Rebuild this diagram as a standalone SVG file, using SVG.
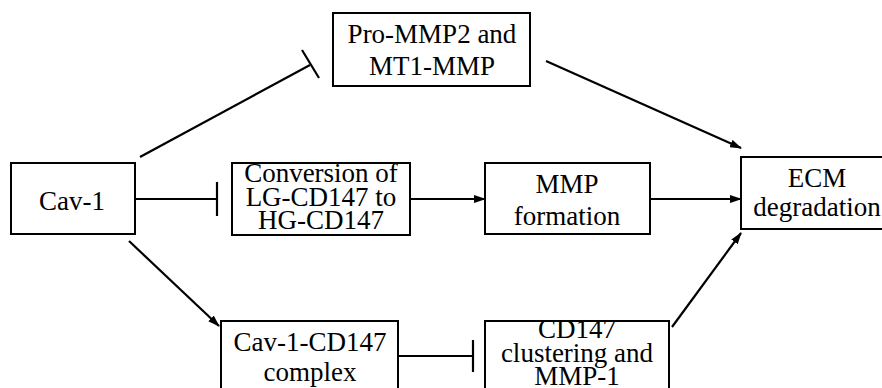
<svg xmlns="http://www.w3.org/2000/svg" width="882" height="388" viewBox="0 0 882 388">
  <style>
    .box { fill: #ffffff; stroke: #000000; stroke-width: 2; }
    .lbl { font-family: 'Liberation Serif', 'Times New Roman', serif; font-size: 27px; fill: #000000; text-anchor: middle; }
    .edge { stroke: #000000; stroke-width: 2.2; fill: none; }
    .act { marker-end: url(#arrow); }
  </style>
  <defs>
    <marker id="arrow" viewBox="0 0 12 8" refX="11" refY="4" markerWidth="12" markerHeight="8" markerUnits="userSpaceOnUse" orient="auto">
      <path d="M0,0 L12,4 L0,8 Z" fill="#000000"/>
    </marker>
  </defs>
  <rect width="882" height="388" fill="#ffffff"/>

  <!-- connectors: arrows activate, bars inhibit -->
  <g id="connectors">
    <line class="edge" x1="140" y1="157" x2="310" y2="65"/>
    <line class="edge" x1="302" y1="50" x2="319" y2="78"/>
    <line class="edge" x1="135" y1="199" x2="217" y2="199"/>
    <line class="edge" x1="217" y1="182" x2="217" y2="216"/>
    <line class="edge act" x1="410" y1="199" x2="485" y2="199"/>
    <line class="edge act" x1="650" y1="199" x2="741" y2="199"/>
    <line class="edge act" x1="546" y1="61" x2="741" y2="148"/>
    <line class="edge act" x1="129" y1="241" x2="219" y2="326"/>
    <line class="edge" x1="398" y1="356" x2="473" y2="356"/>
    <line class="edge" x1="473" y1="340" x2="473" y2="372"/>
    <line class="edge act" x1="672" y1="327" x2="741" y2="233"/>
  </g>

  <g id="pro-mmp2">
    <rect class="box" x="333" y="13" width="197" height="73"/>
    <text class="lbl" x="432" y="43">Pro-MMP2 and</text>
    <text class="lbl" x="432" y="75">MT1-MMP</text>
  </g>

  <g id="cav1">
    <rect class="box" x="11" y="163" width="124" height="71"/>
    <text class="lbl" x="72" y="210">Cav-1</text>
  </g>

  <g id="conversion">
    <rect class="box" x="232" y="163" width="178" height="72"/>
    <text class="lbl" x="321" y="182">Conversion of</text>
    <text class="lbl" x="321" y="206">LG-CD147 to</text>
    <text class="lbl" x="321" y="229">HG-CD147</text>
  </g>

  <g id="mmp-formation">
    <rect class="box" x="485" y="163" width="165" height="71"/>
    <text class="lbl" x="567" y="193">MMP</text>
    <text class="lbl" x="567" y="225">formation</text>
  </g>

  <g id="ecm-degradation">
    <rect class="box" x="741" y="157" width="150" height="72"/>
    <text class="lbl" x="817" y="187">ECM</text>
    <text class="lbl" x="817" y="216">degradation</text>
  </g>

  <g id="cav1-cd147-complex">
    <rect class="box" x="221" y="321" width="177" height="80"/>
    <text class="lbl" x="310" y="351">Cav-1-CD147</text>
    <text class="lbl" x="310" y="381">complex</text>
  </g>

  <g id="cd147-clustering">
    <rect class="box" x="485" y="321" width="184" height="80"/>
    <text class="lbl" x="577" y="338">CD147</text>
    <text class="lbl" x="577" y="362">clustering and</text>
    <text class="lbl" x="577" y="385">MMP-1</text>
  </g>
</svg>
